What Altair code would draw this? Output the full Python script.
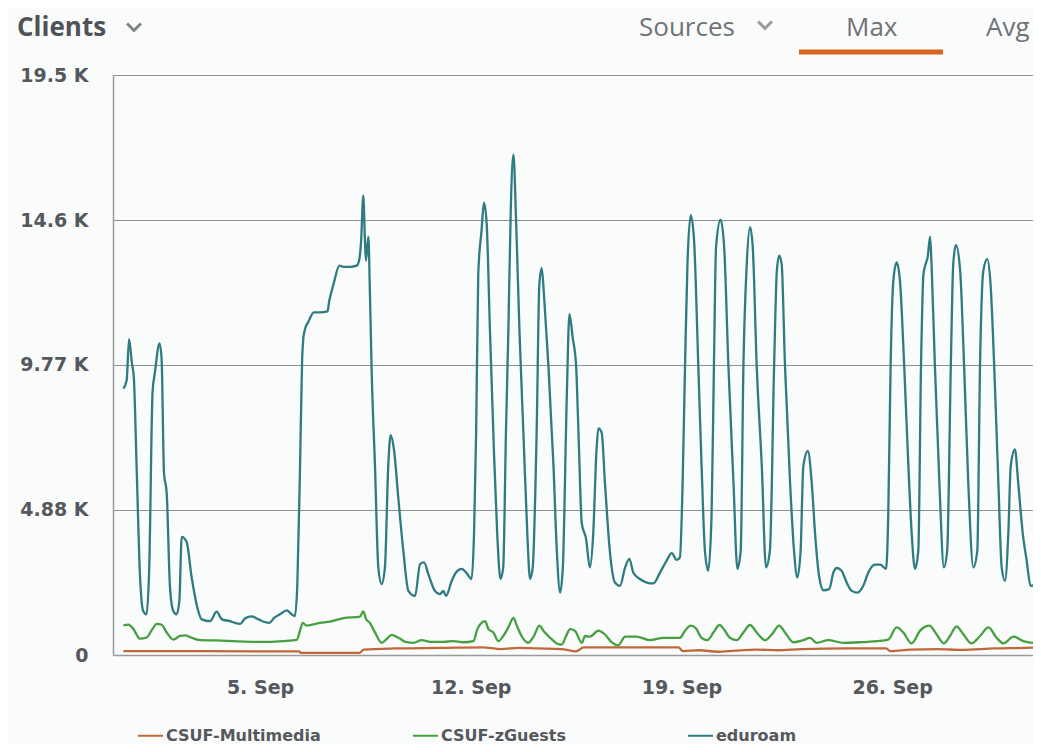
import altair as alt
import pandas as pd

# ---------------- data ----------------
series_names = ["CSUF-Multimedia", "CSUF-zGuests", "eduroam"]
series_colors = ["#c0683c", "#46a041", "#2e7b80"]

# day of September (fractional; 5.0 = 5 Sep 00:00) and clients in thousands
edu_day = [0.46, 0.57, 0.65, 0.74, 0.81, 0.90, 1.01, 1.12, 1.23, 1.32,
           1.43, 1.51, 1.66, 1.73, 1.81, 1.90, 2.01, 2.12, 2.23, 2.32,
           2.40, 2.56, 2.73, 2.92, 3.06, 3.34, 3.56, 3.73, 4.00, 4.17,
           4.34, 4.50, 4.72, 4.95, 5.13, 5.31, 5.47, 5.66, 5.89, 6.05,
           6.16, 6.24, 6.33, 6.40, 6.44, 6.49, 6.61, 6.79, 6.99, 7.24,
           7.30, 7.44, 7.64, 7.77, 7.99, 8.21, 8.30, 8.36, 8.43, 8.49,
           8.52, 8.60, 8.65, 8.71, 8.82, 8.93, 9.04, 9.15, 9.26, 9.34,
           9.45, 9.60, 9.76, 9.93, 10.15, 10.32, 10.45, 10.59, 10.81, 10.98,
           11.09, 11.18, 11.37, 11.51, 11.70, 11.87, 12.03, 12.11, 12.18, 12.25,
           12.36, 12.44, 12.53, 12.64, 12.77, 12.88, 12.99, 13.08, 13.17, 13.25,
           13.33, 13.42, 13.50, 13.62, 13.75, 13.88, 13.97, 14.06, 14.19, 14.28,
           14.36, 14.44, 14.58, 14.75, 14.86, 14.97, 15.06, 15.19, 15.28, 15.39,
           15.50, 15.58, 15.69, 15.83, 15.96, 16.07, 16.18, 16.24, 16.35, 16.46,
           16.63, 16.79, 16.96, 17.13, 17.27, 17.40, 17.62, 17.85, 18.07, 18.29,
           18.51, 18.68, 18.84, 18.95, 19.04, 19.12, 19.20, 19.31, 19.42, 19.56,
           19.67, 19.78, 19.89, 20.00, 20.08, 20.15, 20.30, 20.42, 20.56, 20.73,
           20.86, 20.97, 21.06, 21.17, 21.28, 21.37, 21.50, 21.67, 21.81, 21.94,
           22.08, 22.17, 22.25, 22.33, 22.44, 22.61, 22.74, 22.85, 22.96, 23.05,
           23.20, 23.33, 23.44, 23.58, 23.72, 23.91, 24.05, 24.16, 24.32, 24.49,
           24.66, 24.85, 25.04, 25.21, 25.43, 25.60, 25.80, 25.87, 25.95, 26.04,
           26.15, 26.26, 26.40, 26.54, 26.65, 26.76, 26.87, 26.96, 27.04, 27.13,
           27.18, 27.26, 27.31, 27.42, 27.57, 27.72, 27.83, 27.95, 28.03, 28.12,
           28.26, 28.39, 28.53, 28.70, 28.83, 28.92, 29.03, 29.16, 29.27, 29.39,
           29.53, 29.64, 29.75, 29.86, 29.94, 30.08, 30.19, 30.34, 30.47, 30.60,
           30.80, 30.91]
edu_k = [8.97, 9.25, 10.64, 9.87, 9.31, 6.36, 2.73, 1.48, 1.37, 2.95,
         8.85, 9.53, 10.49, 9.99, 6.13, 5.45, 2.27, 1.48, 1.37, 1.82,
         3.98, 3.81, 2.61, 1.59, 1.20, 1.14, 1.46, 1.20, 1.14, 1.08,
         1.05, 1.23, 1.30, 1.20, 1.12, 1.08, 1.25, 1.37, 1.50, 1.37,
         1.31, 2.39, 6.36, 9.99, 10.67, 10.95, 11.23, 11.54, 11.54, 11.57,
         11.92, 12.48, 13.11, 13.07, 13.07, 13.11, 13.33, 13.96, 15.47, 13.84,
         13.28, 14.09, 12.26, 9.53, 6.36, 2.95, 2.39, 2.95, 6.36, 7.40,
         6.92, 5.22, 3.52, 2.16, 1.99, 3.07, 3.12, 2.73, 2.16, 2.05,
         2.16, 1.99, 2.50, 2.78, 2.90, 2.75, 2.56, 4.09, 7.49, 12.82,
         14.30, 15.23, 14.52, 10.89, 6.92, 4.09, 2.56, 2.95, 7.49, 10.89,
         14.98, 16.85, 14.86, 10.89, 7.49, 4.09, 2.56, 2.95, 7.49, 12.48,
         13.03, 12.03, 9.76, 6.36, 3.52, 2.10, 2.95, 8.63, 11.48, 10.67,
         9.76, 7.49, 4.43, 3.92, 2.95, 4.09, 6.92, 7.63, 7.49, 5.79,
         3.41, 2.44, 2.33, 2.95, 3.24, 2.78, 2.56, 2.44, 2.41, 2.78,
         3.18, 3.43, 3.20, 3.29, 5.79, 9.76, 13.16, 14.81, 13.96, 9.76,
         6.36, 3.52, 2.84, 4.66, 9.76, 13.73, 14.66, 13.73, 9.76, 5.79,
         2.90, 3.52, 9.76, 13.16, 14.41, 13.73, 9.76, 6.36, 2.95, 3.52,
         9.76, 12.94, 13.45, 13.16, 9.76, 5.79, 3.52, 2.61, 3.52, 6.36,
         6.87, 5.79, 4.09, 2.61, 2.18, 2.22, 2.78, 2.93, 2.84, 2.44,
         2.16, 2.10, 2.33, 2.78, 3.04, 3.04, 2.90, 4.66, 9.76, 12.60,
         13.22, 12.60, 9.76, 6.36, 4.09, 2.90, 3.52, 9.76, 12.82, 13.22,
         13.39, 14.09, 13.16, 9.76, 5.79, 2.95, 3.52, 9.76, 13.16, 13.81,
         12.94, 9.76, 5.79, 2.95, 3.52, 9.76, 12.94, 13.33, 12.48, 9.76,
         5.79, 2.95, 2.50, 4.09, 6.36, 6.92, 5.79, 4.09, 3.18, 2.33,
         2.39, 2.95]

zg_day = [0.46, 0.63, 0.79, 1.01, 1.23, 1.40, 1.57, 1.73, 1.90, 2.12,
          2.34, 2.51, 2.73, 3.01, 3.56, 4.22, 5.00, 5.77, 6.22, 6.35,
          6.42, 6.55, 6.99, 7.32, 7.77, 8.32, 8.43, 8.52, 8.65, 8.82,
          9.04, 9.21, 9.37, 9.60, 9.87, 10.09, 10.37, 10.70, 11.09, 11.42,
          11.76, 12.09, 12.22, 12.36, 12.48, 12.59, 12.75, 12.92, 13.08, 13.25,
          13.42, 13.53, 13.69, 13.91, 14.10, 14.28, 14.44, 14.64, 14.86, 15.02,
          15.17, 15.30, 15.46, 15.69, 15.80, 15.96, 16.24, 16.46, 16.68, 16.90,
          17.13, 17.51, 17.96, 18.40, 18.95, 19.12, 19.31, 19.48, 19.67, 19.86,
          20.08, 20.26, 20.41, 20.61, 20.84, 21.06, 21.28, 21.50, 21.78, 22.00,
          22.25, 22.44, 22.72, 23.05, 23.27, 23.49, 23.88, 24.38, 24.93, 25.49,
          25.87, 26.15, 26.37, 26.65, 26.93, 27.24, 27.48, 27.72, 27.92, 28.14,
          28.37, 28.64, 28.92, 29.20, 29.47, 29.70, 30.03, 30.36, 30.69, 30.91]
zg_k = [1.00, 1.02, 0.88, 0.55, 0.59, 0.83, 1.05, 1.02, 0.76, 0.52,
        0.64, 0.66, 0.58, 0.50, 0.49, 0.46, 0.44, 0.47, 0.51, 0.90,
        1.08, 0.99, 1.08, 1.12, 1.24, 1.29, 1.47, 1.22, 1.08, 0.76,
        0.41, 0.54, 0.68, 0.58, 0.43, 0.41, 0.50, 0.44, 0.44, 0.47,
        0.43, 0.47, 0.87, 1.08, 1.14, 0.87, 0.76, 0.47, 0.64, 0.93,
        1.25, 0.99, 0.64, 0.41, 0.64, 0.99, 0.78, 0.58, 0.39, 0.35,
        0.64, 0.87, 0.82, 0.41, 0.64, 0.62, 0.82, 0.69, 0.43, 0.32,
        0.62, 0.62, 0.50, 0.58, 0.58, 0.82, 0.99, 0.90, 0.58, 0.50,
        0.78, 1.01, 0.87, 0.58, 0.50, 0.76, 1.01, 0.76, 0.50, 0.69,
        0.99, 0.76, 0.43, 0.50, 0.58, 0.41, 0.50, 0.41, 0.43, 0.47,
        0.52, 0.93, 0.76, 0.39, 0.82, 0.99, 0.69, 0.39, 0.64, 0.96,
        0.69, 0.39, 0.64, 0.93, 0.58, 0.39, 0.62, 0.47, 0.41, 0.43]

mm_day = [0.46, 3.0, 6.3, 6.36, 8.3, 8.45, 9.5, 11.0, 12.4, 13.0,
          13.6, 14.2, 15.0, 15.5, 15.75, 18.9, 19.05, 19.6, 20.2, 20.8,
          21.5, 22.2, 23.0, 24.5, 25.8, 25.95, 26.6, 27.5, 28.3, 29.4,
          30.4, 30.91]
mm_k = [0.13, 0.13, 0.12, 0.07, 0.07, 0.18, 0.22, 0.24, 0.26, 0.20,
        0.24, 0.22, 0.20, 0.12, 0.26, 0.26, 0.13, 0.16, 0.11, 0.15,
        0.18, 0.16, 0.20, 0.22, 0.22, 0.13, 0.18, 0.20, 0.17, 0.22,
        0.24, 0.26]

y_ticks = [0, 4.883, 9.766, 14.648, 19.531]
x_tick_days = [5, 12, 19, 26]
x_domain_days = [0.116, 30.68]

assert len(edu_day) == len(edu_k), (len(edu_day), len(edu_k))
assert len(zg_day) == len(zg_k), (len(zg_day), len(zg_k))
assert len(mm_day) == len(mm_k), (len(mm_day), len(mm_k))

# ---------------- build table ----------------
base = pd.Timestamp("2023-08-31T00:00:00", tz="UTC")


def to_ms(d):
    return int((base + pd.Timedelta(days=d)).value // 10**6)


def to_iso(d):
    return (base + pd.Timedelta(days=d)).strftime("%Y-%m-%dT%H:%M:%SZ")


rows = []
for name, days, vals in [("CSUF-Multimedia", mm_day, mm_k),
                         ("CSUF-zGuests", zg_day, zg_k),
                         ("eduroam", edu_day, edu_k)]:
    for d, v in zip(days, vals):
        rows.append({"series": name, "t": to_iso(d), "clients_k": v})
df = pd.DataFrame(rows)

W, H = 920, 580
LABEL = "#55585c"
one = alt.Data(values=[{}])

lines = alt.Chart(df).mark_line(strokeWidth=2.3, interpolate="monotone", clip=True).encode(
    x=alt.X("t:T",
            scale=alt.Scale(type="utc", domain=[to_ms(x_domain_days[0]), to_ms(x_domain_days[1])]),
            axis=alt.Axis(values=[to_ms(d) for d in x_tick_days],
                          labelExpr="utcFormat(datum.value, '%-d. %b')",
                          title=None, grid=False, ticks=False,
                          domainColor="#9a9a9a", domainWidth=1.5,
                          labelFont="DejaVu Sans", labelFontWeight="bold",
                          labelFontSize=19, labelColor=LABEL, labelPadding=32,
                          labelBaseline="middle", labelFlush=False)),
    y=alt.Y("clients_k:Q",
            scale=alt.Scale(domain=[0, 19.531], nice=False, zero=True),
            axis=alt.Axis(values=y_ticks,
                          labelExpr="datum.value == 0 ? '0' : format(datum.value, '.3r') + ' K'",
                          title=None, grid=True, gridColor="#8f8f95", gridWidth=1.2,
                          ticks=False, domain=True, domainColor="#9a9a9a", domainWidth=1.5,
                          labelFont="DejaVu Sans", labelFontWeight="bold",
                          labelFontSize=19, labelColor=LABEL, labelPadding=25)),
    color=alt.Color("series:N",
                    scale=alt.Scale(domain=series_names, range=series_colors),
                    legend=alt.Legend(title=None, orient="none", legendX=24, legendY=647,
                                      direction="horizontal", columns=3,
                                      symbolType="stroke", symbolSize=625,
                                      symbolStrokeWidth=2, labelOffset=2,
                                      labelFont="DejaVu Sans", labelFontWeight="bold",
                                      labelFontSize=16, labelColor=LABEL, labelLimit=300,
                                      columnPadding=88, gridAlign="all")),
)

hdr_kw = dict(font="Open Sans", fontSize=26, align="left", baseline="middle")
clients = alt.Chart(one).mark_text(fontWeight="bold", color="#4f5256", **hdr_kw).encode(
    x=alt.value(-96), y=alt.value(-47), text=alt.value("Clients"))
sources = alt.Chart(one).mark_text(color="#707377", **hdr_kw).encode(
    x=alt.value(526), y=alt.value(-47), text=alt.value("Sources"))
mx = alt.Chart(one).mark_text(color="#707377", **hdr_kw).encode(
    x=alt.value(733), y=alt.value(-47), text=alt.value("Max"))
avg = alt.Chart(one).mark_text(color="#707377", **hdr_kw).encode(
    x=alt.value(873), y=alt.value(-47), text=alt.value("Avg"))
chev1 = alt.Chart(one).mark_point(shape="M-1,-0.5L0,0.5L1,-0.5", filled=False,
                                  strokeWidth=3, color="#4f5256", size=190).encode(
    x=alt.value(21), y=alt.value(-48))
chev2 = alt.Chart(one).mark_point(shape="M-1,-0.5L0,0.5L1,-0.5", filled=False,
                                  strokeWidth=3, color="#707377", size=190).encode(
    x=alt.value(652), y=alt.value(-50))
underline = alt.Chart(one).mark_rule(color="#d8661e", strokeWidth=5).encode(
    x=alt.value(686), x2=alt.value(830), y=alt.value(-23))

chart = alt.layer(lines, clients, sources, mx, avg, chev1, chev2, underline).properties(
    width=W, height=H,
    padding={"left": 105, "top": 67, "right": 0, "bottom": 89},
    autosize=alt.AutoSizeParams(type="none"),
    background="#fafbfb",
).configure_view(stroke=None)

chart.save("out.html", embed_options={"renderer": "svg", "actions": False})
